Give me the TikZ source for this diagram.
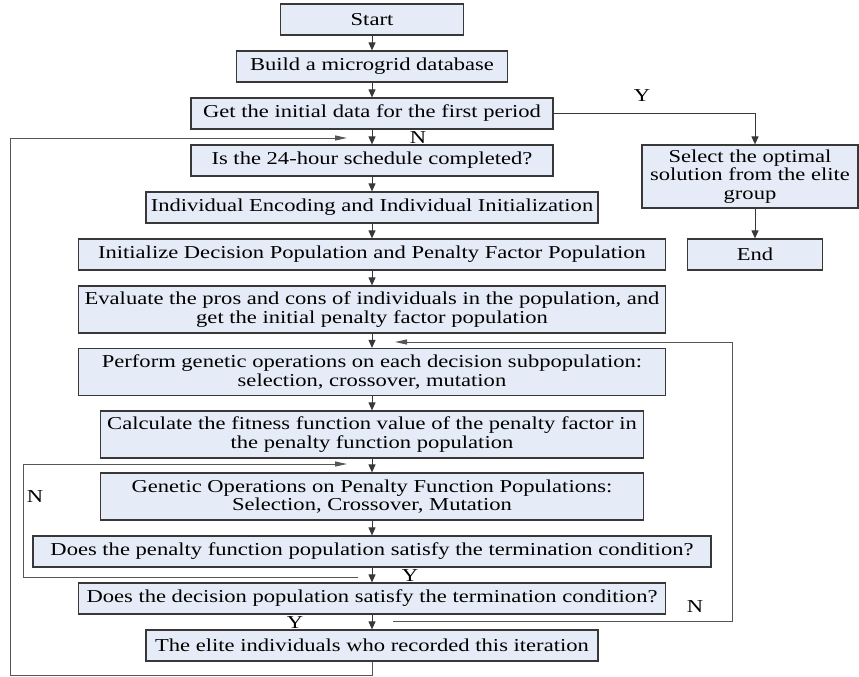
\documentclass[tikz,border=0pt]{standalone}
\usepackage{fontspec}
\setmainfont{Liberation Serif}[FakeStretch=1.24]
\usepackage{tikz}
\usetikzlibrary{arrows.meta}
\definecolor{boxfill}{RGB}{230,236,247}
\definecolor{edge}{RGB}{56,56,56}

\begin{document}
\begin{tikzpicture}[x=1pt, y=-1pt,
  stage/.style={draw=edge, line width=1.2pt, fill=boxfill, inner sep=0pt, align=center,
    minimum height=31pt, font=\fontsize{18.2}{18.5}\selectfont},
  flow/.style={draw=edge, line width=1pt, -{Triangle[length=8pt,width=7pt]}},
  back/.style={draw=edge!85, line width=1pt, -{Triangle[length=12pt,width=5pt]}},
  lab/.style={font=\fontsize{18.2}{18}\selectfont}]
  \useasboundingbox (0,0) rectangle (859,677);
  % main column
  \node[stage, minimum width=183pt] (start) at (372,19.5) {Start};
  \node[stage, minimum width=271pt] (build) at (372,66.5) {Build a microgrid database};
  \node[stage, minimum width=362pt] (getdata) at (372,113.5) {Get the initial data for the first period};
  \node[stage, minimum width=362pt] (sched) at (372,160.5) {Is the 24-hour schedule completed?};
  \node[stage, minimum width=452pt] (encode) at (372,207.5) {Individual Encoding and Individual Initialization};
  \node[stage, minimum width=587pt] (initpop) at (372,254.5) {Initialize Decision Population and Penalty Factor Population};
  \node[stage, minimum width=587pt, minimum height=47pt] (evaluate) at (372,309.5)
    {Evaluate the pros and cons of individuals in the population, and\\get the initial penalty factor population};
  \node[stage, minimum width=587pt, minimum height=47pt] (perform) at (372,372)
    {Perform genetic operations on each decision subpopulation:\\selection, crossover, mutation};
  \node[stage, minimum width=543pt, minimum height=47pt] (fitness) at (372,434.5)
    {Calculate the fitness function value of the penalty factor in\\the penalty function population};
  \node[stage, minimum width=543pt, minimum height=47pt] (genop) at (372,496.5)
    {Genetic Operations on Penalty Function Populations:\\Selection, Crossover, Mutation};
  \node[stage, minimum width=678pt] (pencheck) at (372,551.5) {Does the penalty function population satisfy the termination condition?};
  \node[stage, minimum width=587pt] (deccheck) at (372,598.5) {Does the decision population satisfy the termination condition?};
  \node[stage, minimum width=452pt] (elite) at (372,645.5) {The elite individuals who recorded this iteration};
  % right branch
  \node[stage, minimum width=216pt, minimum height=63pt] (select) at (750,176.5)
    {Select the optimal\\solution from the elite\\group};
  \node[stage, minimum width=135pt] (finish) at (755,254.5) {End};
  \foreach \a/\b in {start/build, build/getdata, getdata/sched, sched/encode, encode/initpop,
    initpop/evaluate, evaluate/perform, perform/fitness, fitness/genop, genop/pencheck,
    pencheck/deccheck, deccheck/elite}
    \draw[flow] (\a) -- (\b);
  \draw[flow] (getdata.east) -| (finish.north |- select.north);
  \draw[flow] (finish.north |- select.south) -- (finish.north);
  \node[lab] (y1) at (642,96) {Y};
  % outer loop
  \coordinate (c1) at (10,675.5);
  \coordinate (n1) at (347,138);
  \draw[back] (elite.south) |- (c1) |- (n1);
  \node[lab] (no1) at (418,138) {N};
  % penalty loop
  \coordinate (c2a) at (358,577);
  \coordinate (c2b) at (23,577);
  \coordinate (n2) at (347,464);
  \draw[back] (c2a) -- (c2b) |- (n2);
  \node[lab] (no2) at (35,497) {N};
  \node[lab] (y2) at (410,576) {Y};
  % decision loop
  \coordinate (c3a) at (393,621);
  \coordinate (c3b) at (732,621);
  \coordinate (n3) at (395,342);
  \draw[back] (c3a) -- (c3b) |- (n3);
  \node[lab] (no3) at (695,607) {N};
  \node[lab] (y3) at (295,623) {Y};
\end{tikzpicture}
\end{document}
